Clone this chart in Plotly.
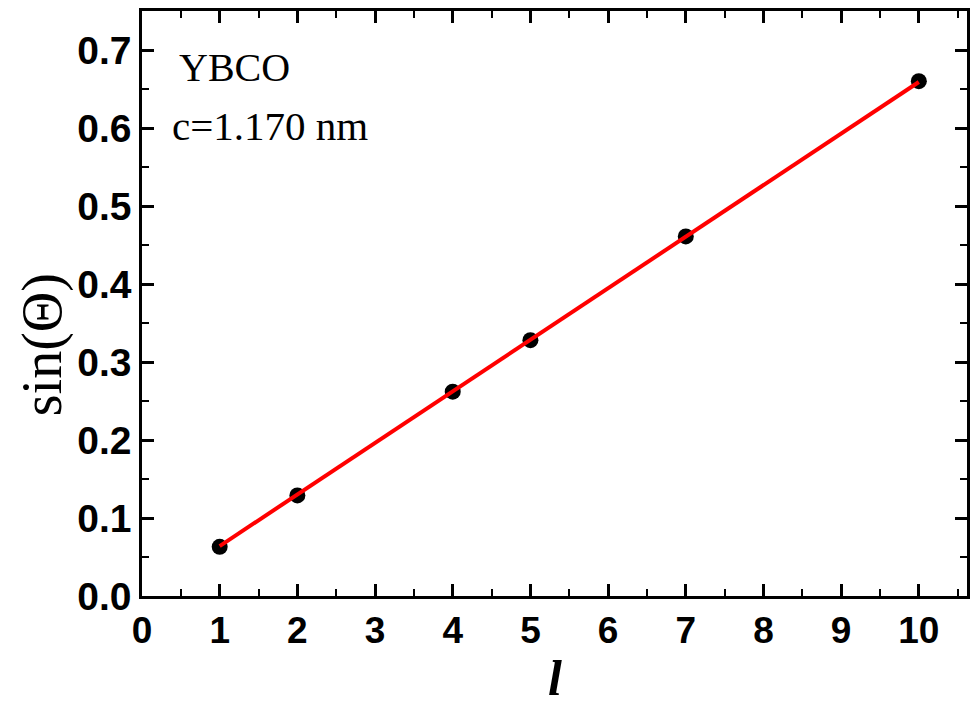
import plotly.graph_objects as go

l_vals = [1, 2, 4, 5, 7, 10]
sin_theta = [0.063, 0.129, 0.262, 0.328, 0.461, 0.660]
fit_x = [1, 10]
fit_y = [0.064, 0.659]
x_ticks = [0, 1, 2, 3, 4, 5, 6, 7, 8, 9, 10]
y_ticks = [0.0, 0.1, 0.2, 0.3, 0.4, 0.5, 0.6, 0.7]

fig = go.Figure()
fig.add_trace(go.Scatter(x=l_vals, y=sin_theta, mode="markers",
                         marker=dict(color="black", size=16), showlegend=False))
fig.add_trace(go.Scatter(x=fit_x, y=fit_y, mode="lines",
                         line=dict(color="#ff0000", width=4), showlegend=False))

serif = "Liberation Serif, Times New Roman"
fig.update_layout(
    width=971, height=709,
    margin=dict(l=142, r=1, t=11, b=113),
    plot_bgcolor="white", paper_bgcolor="white",
    xaxis=dict(range=[0, 10.62], tickvals=x_ticks, ticktext=[str(v) for v in x_ticks],
               showline=True, linecolor="black", linewidth=2.5, mirror="allticks",
               ticks="inside", ticklen=12, tickwidth=2.5, tickcolor="black",
               minor=dict(ticks="inside", ticklen=7, tickwidth=2, tickcolor="black", dtick=0.5, showgrid=False),
               showgrid=False, zeroline=False,
               tickfont=dict(family="Liberation Sans, Arial", size=37, color="black", weight="bold")),
    yaxis=dict(range=[0, 0.75], tickvals=y_ticks, ticktext=["%.1f" % v for v in y_ticks],
               showline=True, linecolor="black", linewidth=2.5, mirror="allticks",
               ticks="inside", ticklen=12, tickwidth=2.5, tickcolor="black",
               minor=dict(ticks="inside", ticklen=7, tickwidth=2, tickcolor="black", dtick=0.05, showgrid=False),
               showgrid=False, zeroline=False,
               tickfont=dict(family="Liberation Sans, Arial", size=39, color="black", weight="bold")),
)
fig.add_annotation(text="sin(Θ)", xref="paper", yref="paper", x=-0.121, y=0.429,
                   xanchor="center", yanchor="middle", showarrow=False, textangle=-90,
                   font=dict(family=serif, size=56, color="black"))
fig.add_annotation(text="<b><i>l</i></b>", xref="paper", yref="paper", x=0.500, y=-0.191,
                   xanchor="center", yanchor="bottom", showarrow=False,
                   font=dict(family=serif, size=50, color="black"))
fig.add_annotation(text="YBCO", xref="paper", yref="paper", x=0.043, y=0.903, xanchor="left", yanchor="middle",
                   showarrow=False, font=dict(family=serif, size=40, color="black"))
fig.add_annotation(text="c=1.170 nm", xref="paper", yref="paper", x=0.034, y=0.803, xanchor="left", yanchor="middle",
                   showarrow=False, font=dict(family=serif, size=41, color="black"))
fig.write_html("out.html")
